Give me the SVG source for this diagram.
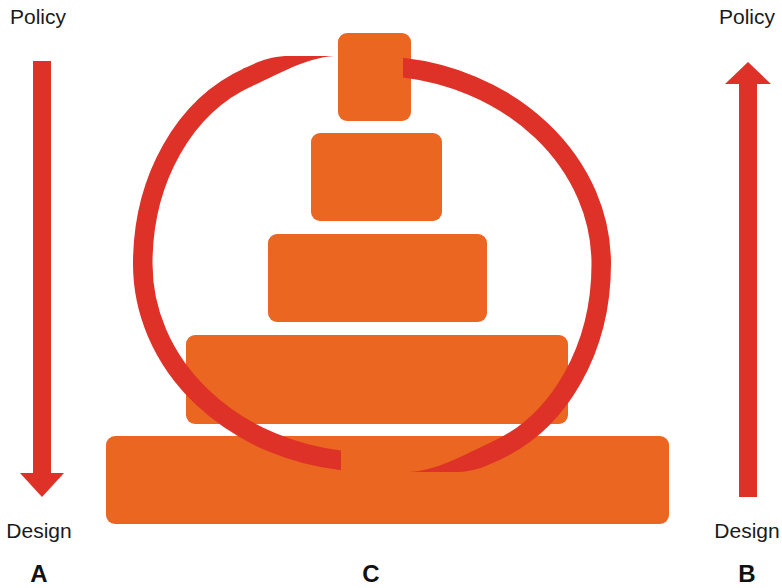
<svg xmlns="http://www.w3.org/2000/svg" width="782" height="588" viewBox="0 0 782 588">
<defs>
<style>
.box{fill:#EA6621}
.ring{fill:none;stroke:#DE3228;stroke-width:19.5;stroke-linecap:butt}
.tip{fill:#DE3228}
.arrow{fill:#DE3228}
.lbl{font-family:"Liberation Sans",Arial,sans-serif;font-size:21px;fill:#1a1a1a}
.let{font-family:"Liberation Sans",Arial,sans-serif;font-size:24px;font-weight:bold;fill:#111}
</style>
<clipPath id="cut" clipPathUnits="userSpaceOnUse"><rect x="0" y="0" width="341" height="588"/></clipPath>
</defs>
<g id="boxes">
<rect id="box1" class="box" x="338" y="33" width="73" height="88" rx="9"/>
<rect id="box2" class="box" x="311" y="133" width="131" height="88" rx="9"/>
<rect id="box3" class="box" x="268" y="234" width="219" height="88" rx="9"/>
<rect id="box4" class="box" x="186" y="335" width="382" height="89" rx="9"/>
<rect id="box5" class="box" x="106" y="436" width="563" height="88" rx="9"/>
</g>
<g id="connectors">
<g id="ring-left" clip-path="url(#cut)">
<path class="ring" d="M350 461.33 A229.25 198.25 0 0 1 142.75 264 C142.75 179.85 184.11 105.82 248.82 76.9"/>
<path class="tip" d="M242.9 68.8 L244.7 68 C258 62 268 57 285 56 L334 56 C305 58 280.1 73.5 252.7 85.8 L250.9 86.6 Z"/>
</g>
<use id="ring-right" href="#ring-left" transform="rotate(180 372 264)"/>
<path id="arrowA" class="arrow" d="M33 61 H51 V473 H64 L42 497 L20 473 H33 Z"/>
<path id="arrowB" class="arrow" d="M739 497 H757 V84 H771 L748 62 L725 84 H739 Z"/>
</g>
<g id="labels">
<text class="lbl" x="38" y="24" text-anchor="middle">Policy</text>
<text class="lbl" x="39" y="538" text-anchor="middle">Design</text>
<text class="lbl" x="747" y="24" text-anchor="middle">Policy</text>
<text class="lbl" x="747" y="538" text-anchor="middle">Design</text>
<text class="let" x="39" y="582" text-anchor="middle">A</text>
<text class="let" x="371" y="582" text-anchor="middle">C</text>
<text class="let" x="747" y="582" text-anchor="middle">B</text>
</g>
</svg>
